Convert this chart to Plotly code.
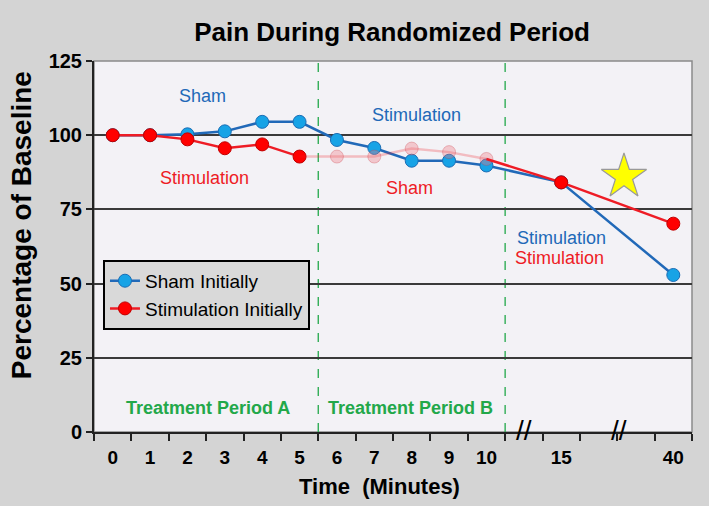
import plotly.graph_objects as go

# eixo x quebrado: rotulos e posicao de cada rotulo no eixo
time_labels = ["0", "1", "2", "3", "4", "5", "6", "7", "8", "9", "10", "15", "40"]
time_pos = [0, 1, 2, 3, 4, 5, 6, 7, 8, 9, 10, 12, 15]

sham_initially = [100, 100, 100.3, 101.3, 104.5, 104.5, 98.4, 95.7, 91.4, 91.4, 89.8, 84.1, 52.9]
stim_initially = [100, 100, 98.6, 95.6, 96.9, 92.8, 92.8, 92.8, 95.5, 94.3, 92.0, 84.1, 70.2]

y_ticks = [0, 25, 50, 75, 100, 125]
period_edges = [5.5, 10.5]
break_pos = [11, 13.55]

FONT = "Liberation Sans, Arial, sans-serif"
BLUE_LINE = "#2169b8"
BLUE_FILL = "#17a3e6"
RED = "#ee1c25"
GREEN = "#22a84a"

fig = go.Figure()

# Sham Initially (azul)
fig.add_trace(go.Scatter(
    x=time_pos, y=sham_initially, name="Sham Initially", mode="lines+markers",
    line=dict(color=BLUE_LINE, width=2.5),
    marker=dict(size=13, color=BLUE_FILL, line=dict(color="#1a6db5", width=1)),
))

# Stimulation Initially: periodo A
fig.add_trace(go.Scatter(
    x=time_pos[:6], y=stim_initially[:6], name="Stimulation Initially", mode="lines+markers",
    line=dict(color=RED, width=2.5),
    marker=dict(size=13, color="#ff0000", line=dict(color="#c00000", width=1)),
))
# periodo B (esmaecido)
fig.add_trace(go.Scatter(
    x=time_pos[5:11], y=stim_initially[5:11], mode="lines+markers", showlegend=False,
    line=dict(color="rgba(238,28,37,0.25)", width=2.5),
    marker=dict(size=13, color="rgba(240,120,130,0.35)", line=dict(color="rgba(200,60,70,0.3)", width=1),
                opacity=[0, 1, 1, 1, 1, 1]),
))
# depois do periodo B
fig.add_trace(go.Scatter(
    x=time_pos[10:], y=stim_initially[10:], mode="lines+markers", showlegend=False,
    line=dict(color=RED, width=2.5),
    marker=dict(size=13, color="#ff0000", line=dict(color="#c00000", width=1), opacity=[0, 1, 1]),
))

# estrela
fig.add_trace(go.Scatter(
    x=[13.68], y=[86], mode="markers", showlegend=False,
    marker=dict(symbol="star", size=34, color="#ffff00", line=dict(color="#999999", width=1.2)),
))

# linhas tracejadas dos periodos
for xe in period_edges:
    fig.add_shape(type="line", x0=xe, x1=xe, y0=0, y1=125, xref="x", yref="y",
                  line=dict(color=GREEN, width=1.3, dash="dash"), layer="below")

# borda da area do grafico
fig.add_shape(type="rect", x0=0, x1=1, y0=0, y1=1, xref="paper", yref="paper",
              line=dict(color="#8a8a8a", width=1.5), layer="below")

notes = [
    ("Sham", 2.41, 113.2, BLUE_LINE),
    ("Stimulation", 2.46, 85.6, RED),
    ("Stimulation", 8.13, 106.8, BLUE_LINE),
    ("Sham", 7.95, 82.2, RED),
    ("Stimulation", 12.0, 65.4, BLUE_LINE),
    ("Stimulation", 11.96, 58.6, RED),
]
for txt, xx, yy, col in notes:
    fig.add_annotation(x=xx, y=yy, text=txt, showarrow=False,
                       font=dict(family=FONT, size=18, color=col))

for txt, xx in [("Treatment Period A", 2.54), ("Treatment Period B", 7.97)]:
    fig.add_annotation(x=xx, y=8.1, text="<b>" + txt + "</b>", showarrow=False,
                       font=dict(family=FONT, size=18, color=GREEN))

for xb in break_pos:
    fig.add_annotation(x=xb, y=0, text="//", showarrow=False, yshift=2,
                       font=dict(family=FONT, size=28, color="black"))

# titulos dos eixos
fig.add_annotation(x=0.478, y=-0.147, xref="paper", yref="paper", text="<b>Time  (Minutes)</b>",
                   showarrow=False, yanchor="middle", font=dict(size=22))
fig.add_annotation(x=-0.12, y=0.558, xref="paper", yref="paper", text="<b>Percentage of Baseline</b>",
                   showarrow=False, textangle=-90, xanchor="center", yanchor="middle", font=dict(size=28))

fig.update_layout(
    width=709, height=506,
    margin=dict(l=94, r=17, t=61, b=74),
    paper_bgcolor="#d4d4d4", plot_bgcolor="#f3f2f6",
    font=dict(family=FONT, color="black"),
    title=dict(text="<b>Pain During Randomized Period</b>", x=0.553, xanchor="center",
               y=0.937, yanchor="middle", font=dict(size=26)),
    showlegend=True,
    legend=dict(x=0.015, y=0.464, xanchor="left", yanchor="top",
                bgcolor="#d9d9d9", bordercolor="black", borderwidth=2,
                font=dict(size=19), tracegroupgap=4),
)

fig.update_xaxes(
    range=[-0.5, 15.5], tickvals=time_pos, ticktext=["<b>%s</b>" % t for t in time_labels],
    ticks="", tickfont=dict(size=19), showgrid=False, zeroline=False, ticklabelstandoff=7,
    showline=True, linecolor="#222222", linewidth=2,
    minor=dict(tick0=-0.5, dtick=1, ticks="outside", ticklen=7, tickwidth=1.5, tickcolor="#222222"),
)
fig.update_yaxes(
    range=[0, 125], tickvals=y_ticks, ticktext=["<b>%d</b>" % v for v in y_ticks],
    ticks="outside", ticklen=6, tickwidth=1.5, tickcolor="#222222", tickfont=dict(size=20),
    showgrid=True, gridcolor="#3a3a3a", gridwidth=1.5, zeroline=False,
    showline=True, linecolor="#222222", linewidth=2,
)

fig.write_html("out.html", config={"displayModeBar": False},
               post_script="document.body.style.margin='0';")
